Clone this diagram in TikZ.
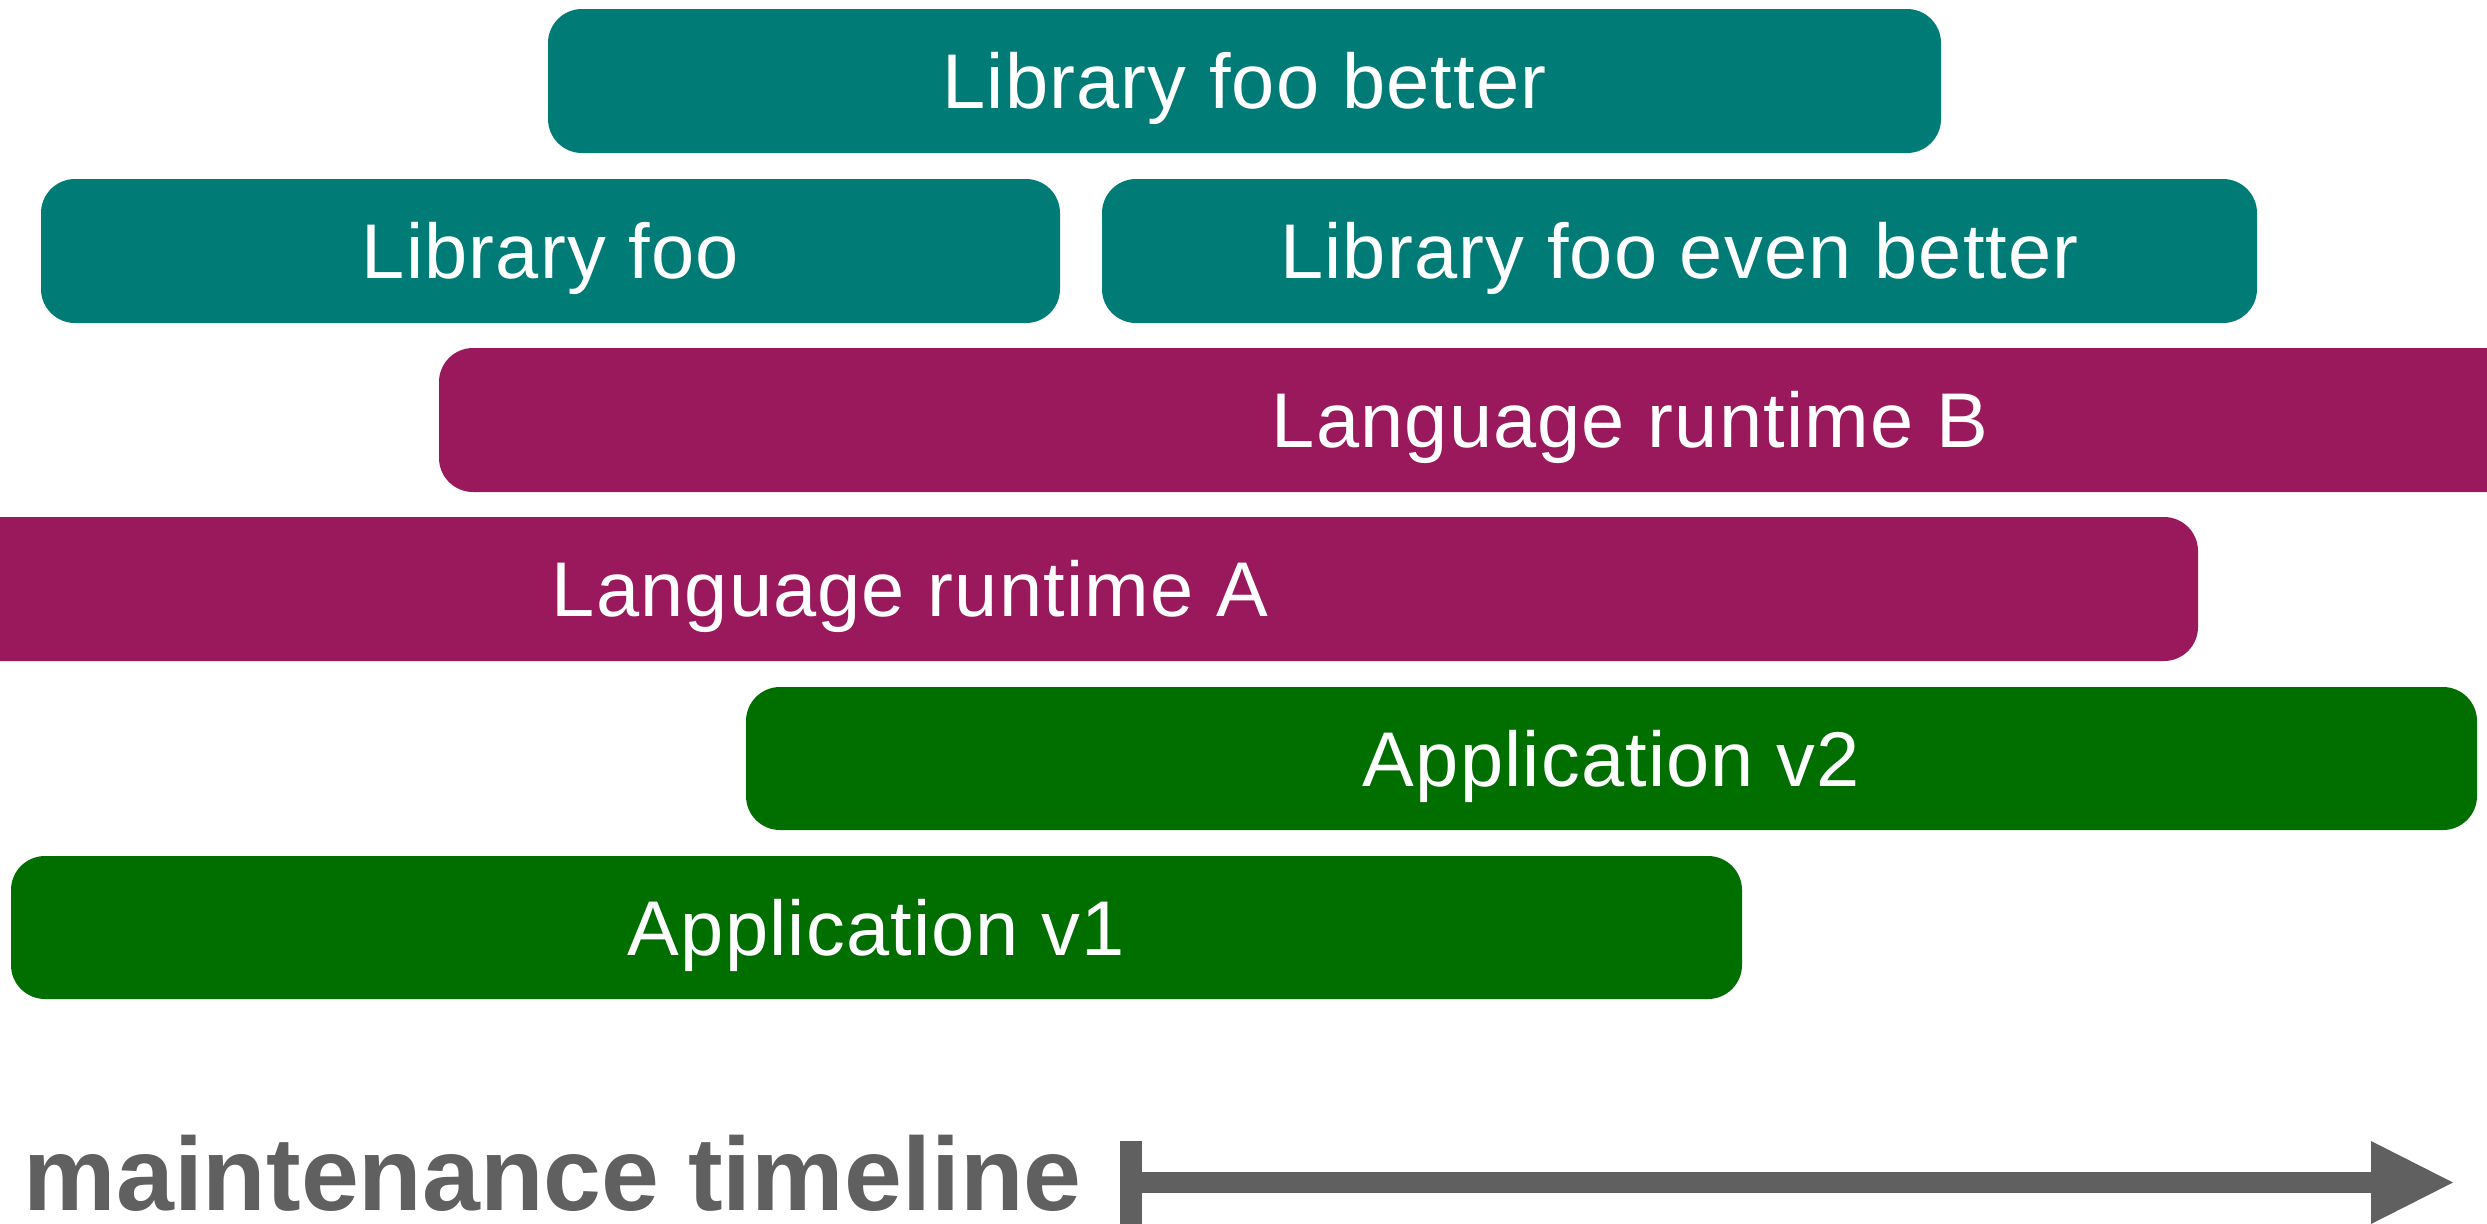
\documentclass[tikz,border=0pt]{standalone}
\usepackage{fontspec}
\setmainfont{Liberation Sans}
\newfontfamily\barfont[LetterSpace=1.5]{Liberation Sans}
\definecolor{libteal}{HTML}{007B75}
\definecolor{rtpurple}{HTML}{9A195C}
\definecolor{appgreen}{HTML}{006F00}
\definecolor{tlgray}{HTML}{606060}
\tikzset{
  bar/.style={rectangle, rounded corners=8.5pt, draw=none, text=white, inner sep=0pt,
    font=\barfont\fontsize{19.4pt}{23pt}\selectfont, text height=13.8pt, text depth=0pt,
    minimum height=36pt},
  libbar/.style={bar, fill=libteal},
  rtbar/.style={bar, fill=rtpurple},
  appbar/.style={bar, fill=appgreen},
  tllabel/.style={inner sep=0pt, text=tlgray, font=\bfseries\fontsize{26pt}{30pt}\selectfont},
}
\begin{document}
\begin{tikzpicture}[x=0.25pt, y=-0.25pt]
\useasboundingbox (0,0) rectangle (2487,1223);
\clip (0,0) rectangle (2487,1223);
\node[libbar, minimum width=348.25pt] (foobetter) at (1244.5,81) {Library foo better};
\node[libbar, minimum width=254.75pt] (foo) at (550.5,251) {Library foo};
\node[libbar, minimum width=288.75pt] (fooeven) at (1679.5,251) {Library foo even better};
\node[rtbar, minimum width=595.5pt] (rtB) at (1630,420) {Language runtime B};
\node[rtbar, minimum width=644pt] (rtA) at (910,589) {Language runtime A};
\node[appbar, minimum width=432.75pt, minimum height=35.75pt] (appv2) at (1611.5,758.5) {Application v2};
\node[appbar, minimum width=432.75pt, minimum height=35.75pt] (appv1) at (876.5,927.5) {Application v1};
\node[tllabel, anchor=base west] (tl) at (23,1210) {maintenance timeline};
\coordinate (tstart) at (1142,1182.5);
\coordinate (tbase) at (2372,1182.5);
\coordinate (tend) at (2453,1182.5);
\fill[tlgray] (1120,1141) rectangle (1142,1225);
\draw[tlgray, line width=5.25pt] (tstart) -- (tbase);
\fill[tlgray] (2371,1141) -- (tend) -- (2371,1224) -- cycle;
\end{tikzpicture}
\end{document}
